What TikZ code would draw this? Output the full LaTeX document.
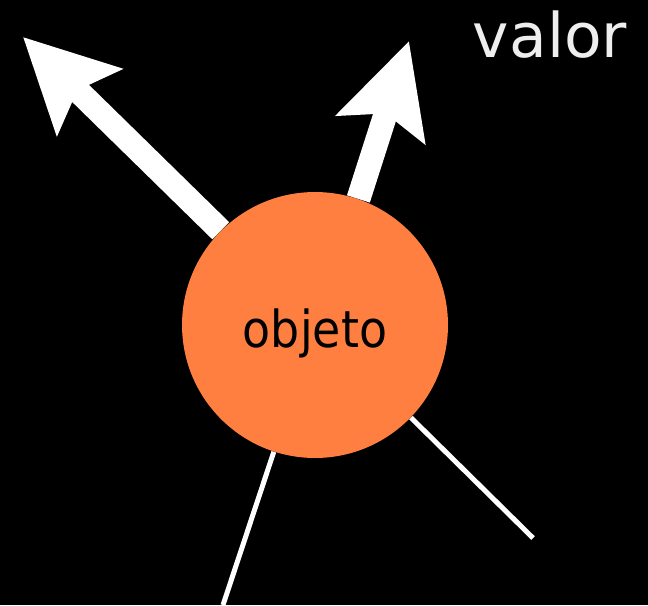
\documentclass[tikz,border=0pt]{standalone}
\usepackage{fontspec}
\usepackage{tikz}
\usetikzlibrary{arrows.meta}
\usetikzlibrary{positioning}
\newfontfamily\valfont{DejaVu Sans}
\newfontfamily\objfont[FakeStretch=0.9]{DejaVu Sans}
\definecolor{objorange}{RGB}{255,127,64}
\definecolor{valgray}{RGB}{238,238,238}
\tikzset{
	valarrow/.style={draw=white,line width=0.48cm,-{Stealth[length=1.84cm,width=1.82cm,inset=0.32cm]}},
	refline/.style={draw=white,line width=0.1cm}
}

\begin{document}
\begin{tikzpicture}[x=0.02cm,y=-0.02cm]
	\fill[black] (0,0) rectangle (648,605);
	\useasboundingbox (0,0) rectangle (648,605);
	\node[circle,fill=objorange,inner sep=0pt,minimum size=5.32cm](obj) at (315,325){};
	\node[anchor=base,font=\objfont\fontsize{29}{32}\selectfont](objtext) at (315,347){objeto};
	\node[anchor=base,text=valgray,font=\valfont\fontsize{35}{40}\selectfont](val) at (550,57){valor};
	\coordinate (tipA) at (23,37);
	\coordinate (tipB) at (409,41);
	\coordinate (endC) at (223,605);
	\coordinate (endD) at (533,538);
	\draw[valarrow] (obj.135.4) -- (tipA);
	\draw[valarrow] (obj.71.7) -- (tipB);
	\draw[refline] (obj.-108.2) -- (endC);
	\draw[refline] (obj.-44.3) -- (endD);
\end{tikzpicture}
\end{document}
